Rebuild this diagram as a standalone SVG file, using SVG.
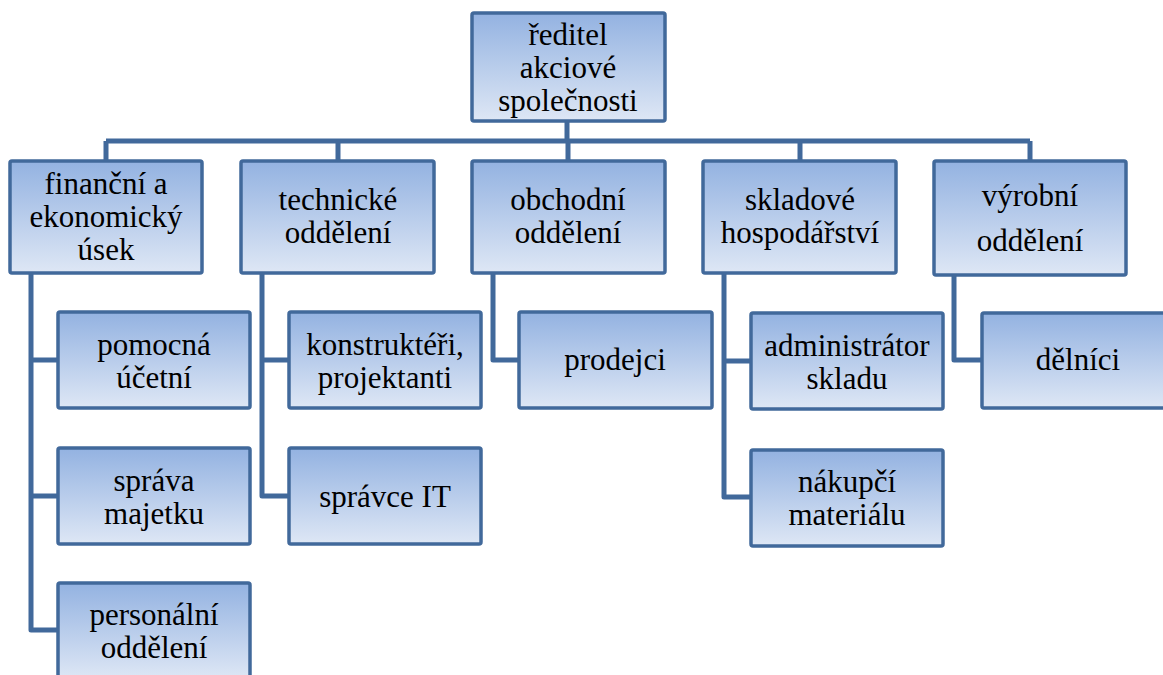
<svg xmlns="http://www.w3.org/2000/svg" width="1163" height="675" viewBox="0 0 1163 675" font-family="Liberation Serif, DejaVu Serif, Times New Roman, serif">
<defs>
<linearGradient id="g" x1="0" y1="0" x2="0" y2="1">
<stop offset="0" stop-color="#93B2E1"/>
<stop offset="1" stop-color="#DEE7F5"/>
</linearGradient>
<style>
.box{fill:url(#g);stroke:#41699B;stroke-width:3.5;}
.t{font-size:31px;fill:#000;text-anchor:middle;}
.c{fill:none;stroke:#41699B;stroke-width:5;stroke-linejoin:round;stroke-linecap:butt;}
</style>
</defs>
<rect width="1163" height="675" fill="#fff"/>
<g id="connectors">
<path class="c" d="M567,121 V141 M106,141 H1030 M106,141 V161 M338,141 V161 M568,141 V161 M800,141 V161 M1030,141 V161"/>
<path class="c" d="M31,273 V630 H58 M31,360 H58 M31,496 H58"/>
<path class="c" d="M262,273 V496 H289 M262,360 H289"/>
<path class="c" d="M493,273 V360 H519"/>
<path class="c" d="M724,273 V497 H751 M724,361 H751"/>
<path class="c" d="M954,276 V360 H982"/>
</g>
<g id="n-reditel">
<rect class="box" x="472" y="13" width="193" height="108" rx="2"/>
<text class="t" x="568" y="45">ředitel</text>
<text class="t" x="568" y="78">akciové</text>
<text class="t" x="568" y="111">společnosti</text>
</g>
<g id="n-financni">
<rect class="box" x="10" y="161" width="192" height="112" rx="2"/>
<text class="t" x="106" y="194">finanční a</text>
<text class="t" x="106" y="227">ekonomický</text>
<text class="t" x="106" y="260">úsek</text>
</g>
<g id="n-technicke">
<rect class="box" x="241" y="161" width="193" height="112" rx="2"/>
<text class="t" x="338" y="210">technické</text>
<text class="t" x="338" y="243">oddělení</text>
</g>
<g id="n-obchodni">
<rect class="box" x="472" y="161" width="193" height="112" rx="2"/>
<text class="t" x="568" y="210">obchodní</text>
<text class="t" x="568" y="243">oddělení</text>
</g>
<g id="n-skladove">
<rect class="box" x="703" y="161" width="193" height="112" rx="2"/>
<text class="t" x="800" y="210">skladové</text>
<text class="t" x="800" y="243">hospodářství</text>
</g>
<g id="n-vyrobni">
<rect class="box" x="934" y="161" width="192" height="114" rx="2"/>
<text class="t" x="1030" y="206">výrobní</text>
<text class="t" x="1030" y="251">oddělení</text>
</g>
<g id="n-pomocna">
<rect class="box" x="58" y="312" width="192" height="96" rx="2"/>
<text class="t" x="154" y="355">pomocná</text>
<text class="t" x="154" y="388">účetní</text>
</g>
<g id="n-sprava">
<rect class="box" x="58" y="448" width="192" height="96" rx="2"/>
<text class="t" x="154" y="491">správa</text>
<text class="t" x="154" y="524">majetku</text>
</g>
<g id="n-personalni">
<rect class="box" x="58" y="583" width="192" height="96" rx="2"/>
<text class="t" x="154" y="625">personální</text>
<text class="t" x="154" y="658">oddělení</text>
</g>
<g id="n-konstrukteri">
<rect class="box" x="289" y="312" width="192" height="96" rx="2"/>
<text class="t" x="385" y="355">konstruktéři,</text>
<text class="t" x="385" y="388">projektanti</text>
</g>
<g id="n-spravceit">
<rect class="box" x="289" y="448" width="192" height="96" rx="2"/>
<text class="t" x="385" y="507">správce IT</text>
</g>
<g id="n-prodejci">
<rect class="box" x="519" y="312" width="193" height="96" rx="2"/>
<text class="t" x="615" y="370">prodejci</text>
</g>
<g id="n-administrator">
<rect class="box" x="751" y="313" width="192" height="96" rx="2"/>
<text class="t" x="847" y="356">administrátor</text>
<text class="t" x="847" y="389">skladu</text>
</g>
<g id="n-nakupci">
<rect class="box" x="751" y="450" width="192" height="96" rx="2"/>
<text class="t" x="847" y="492">nákupčí</text>
<text class="t" x="847" y="525">materiálu</text>
</g>
<g id="n-delnici">
<rect class="box" x="982" y="313" width="192" height="95" rx="2"/>
<text class="t" x="1078" y="370">dělníci</text>
</g>
</svg>
